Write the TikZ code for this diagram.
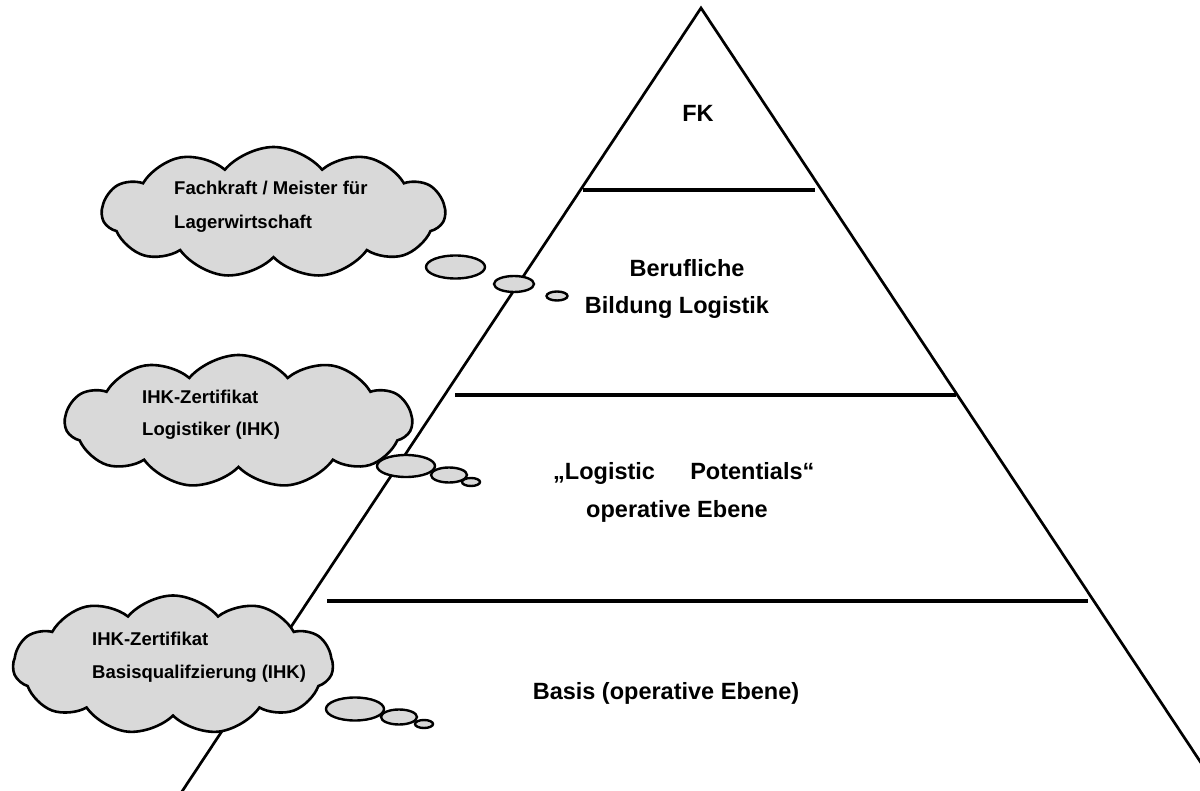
\documentclass[tikz,border=0pt]{standalone}
\usepackage{fontspec}
\setmainfont{Liberation Sans}
\usetikzlibrary{shapes.symbols,shapes.geometric}

\begin{document}
\begin{tikzpicture}[x=1pt, y=-1pt,
  wolke/.style={cloud, cloud puffs=11, cloud puff arc=100, cloud ignores aspect, draw=black, line width=2.6pt, fill=gray!30, inner sep=0pt},
  blase/.style={ellipse, draw=black, line width=2.4pt, fill=gray!30, inner sep=0pt},
  ebene/.style={font=\fontsize{23.5}{28}\selectfont\bfseries, inner sep=0pt, anchor=base},
  wtext/.style={font=\fontsize{18.5}{22}\selectfont\bfseries, inner sep=0pt, anchor=base west}]

\useasboundingbox (0,0) rectangle (1200,791);
\clip (0,0) rectangle (1200,791);

% pyramid
\coordinate (spitze) at (701,8);
\coordinate (links) at (179,796);
\coordinate (rechts) at (1223,796);
\draw[line width=2.7pt, line join=miter] (links) -- (spitze) -- (rechts);

\coordinate (s1a) at (583,190);
\coordinate (s1b) at (815,190);
\coordinate (s2a) at (455,395);
\coordinate (s2b) at (956,395);
\coordinate (s3a) at (327,601);
\coordinate (s3b) at (1088,601);
\draw[line width=3.2pt] (s1a) -- (s1b);
\draw[line width=3.2pt] (s2a) -- (s2b);
\draw[line width=3.2pt] (s3a) -- (s3b);

\node[ebene] (fk) at (698,122) {FK};
\node[ebene] (beruf) at (687,277) {Berufliche};
\node[ebene] (bildung) at (677,314) {Bildung Logistik};
\node[ebene, anchor=base west] (potential) at (553,479) {„Logistic\hspace{1.5em}Potentials“};
\node[ebene] (operativ) at (677,517) {operative Ebene};
\node[ebene] (basis) at (666,699) {Basis (operative Ebene)};

% clouds
\node[wolke, minimum width=343, minimum height=131] (wolke1) at (273.5,212.5) {};
\node[blase, minimum width=59, minimum height=23] (b1a) at (455.5,267) {};
\node[blase, minimum width=40, minimum height=16] (b1b) at (514,284) {};
\node[blase, minimum width=21, minimum height=9] (b1c) at (557,296) {};
\node[wtext] (t1a) at (174,195) {Fachkraft / Meister für};
\node[wtext] (t1b) at (174,229) {Lagerwirtschaft};

\node[wolke, minimum width=347, minimum height=133] (wolke2) at (238.5,421.5) {};
\node[blase, minimum width=58, minimum height=22] (b2a) at (406,466) {};
\node[blase, minimum width=36, minimum height=15] (b2b) at (449,475) {};
\node[blase, minimum width=18, minimum height=8] (b2c) at (471,482) {};
\node[wtext] (t2a) at (142,404) {IHK-Zertifikat};
\node[wtext] (t2b) at (142,436) {Logistiker (IHK)};

\node[wolke, minimum width=320, minimum height=139] (wolke3) at (173,665) {};
\node[blase, minimum width=58, minimum height=23] (b3a) at (355,709) {};
\node[blase, minimum width=36, minimum height=15] (b3b) at (399,717) {};
\node[blase, minimum width=18, minimum height=8] (b3c) at (424,724) {};
\node[wtext] (t3a) at (92,645) {IHK-Zertifikat};
\node[wtext] (t3b) at (92,678) {Basisqualifzierung (IHK)};

\end{tikzpicture}
\end{document}
